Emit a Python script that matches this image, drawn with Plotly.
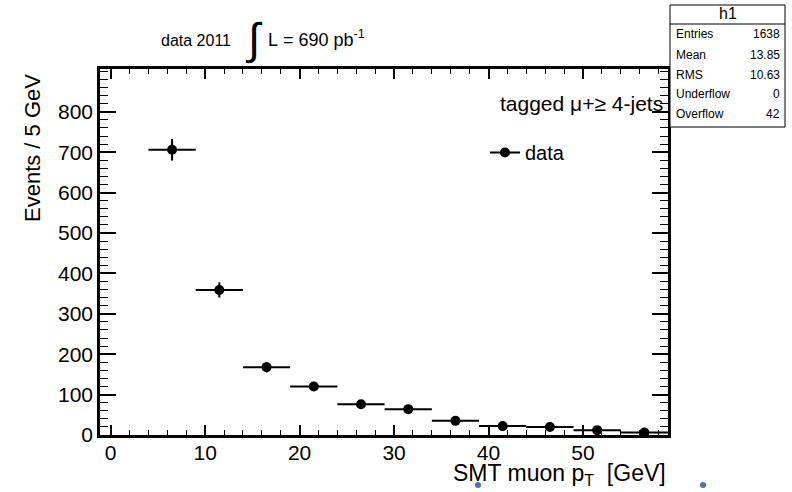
import numpy as np
import plotly.graph_objects as go

# ---- data ----
bin_centers = [6.5, 11.5, 16.5, 21.5, 26.5, 31.5, 36.5, 41.5, 46.5, 51.5, 56.5]
counts = [706, 359, 168, 120, 76, 64, 35, 22, 20, 12, 6]
bin_half_width = [2.5] * len(bin_centers)
count_errors = [float(np.sqrt(c)) for c in counts]

y_tick_values = [0, 100, 200, 300, 400, 500, 600, 700, 800]
x_tick_values = [0, 10, 20, 30, 40, 50]

stats_names = ["Entries", "Mean", "RMS", "Underflow", "Overflow"]
stats_values = ["1638", "13.85", "10.63", "0", "42"]

FONT = "Liberation Sans, Arial, Helvetica, sans-serif"

# plot-area pixel geometry (for placing annotations)
W, H = 792, 492
L, R, T, B = 100, 668, 69, 435
def px(x):
    return (x - L) / (R - L)
def py(y):
    return (B - y) / (B - T)

fig = go.Figure()
fig.add_trace(go.Scatter(
    x=bin_centers, y=counts, mode="markers",
    marker=dict(color="black", size=10, symbol="circle"),
    error_x=dict(type="data", array=bin_half_width, width=0, thickness=2, color="black"),
    error_y=dict(type="data", array=count_errors, width=0, thickness=2, color="black"),
    showlegend=False, hoverinfo="x+y",
))
# legend entry (marker + line, ROOT "lep" style)
fig.add_trace(go.Scatter(
    x=[None], y=[None], mode="lines+markers", name="data",
    line=dict(color="black", width=2),
    marker=dict(color="black", size=10),
))

axis_common = dict(
    showline=True, linecolor="black", linewidth=2.5, mirror="ticks",
    ticks="inside", tickcolor="black", showgrid=False, zeroline=False,
    tickfont=dict(family=FONT, size=21, color="black"),
)
fig.update_xaxes(
    range=[-1.13, 59.0], tickmode="array", tickvals=x_tick_values, ticklen=10, tickwidth=1.5,
    ticklabelstandoff=-3,
    minor=dict(dtick=2, tick0=0, ticklen=5, ticks="inside", tickcolor="black", tickwidth=1.2),
    **axis_common,
)
fig.update_yaxes(
    range=[0, 906], tickmode="array", tickvals=y_tick_values, ticklen=16, tickwidth=1.5,
    minor=dict(dtick=20, tick0=0, ticklen=8, ticks="inside", tickcolor="black", tickwidth=1.2),
    **axis_common,
)

ann = []
# axis titles (ROOT style, aligned to the end)
ann.append(dict(text="SMT muon p<sub>T</sub>&nbsp;&nbsp;[GeV]", x=1.0, xanchor="right",
                y=py(475), yanchor="middle", xref="paper", yref="paper", showarrow=False,
                font=dict(family=FONT, size=23, color="black")))
ann.append(dict(text="Events / 5 GeV", x=(32 - L) / (R - L), xanchor="center",
                y=py(72), yanchor="top", xref="paper", yref="paper", showarrow=False, textangle=-90,
                font=dict(family=FONT, size=22, color="black")))
# title with integral sign
ann.append(dict(text="data 2011", x=px(159), xanchor="left", y=py(40), yanchor="middle",
                xref="paper", yref="paper", showarrow=False,
                font=dict(family=FONT, size=16, color="black")))
ann.append(dict(text="∫", x=px(254), xanchor="center", y=py(39), yanchor="middle",
                xref="paper", yref="paper", showarrow=False,
                font=dict(family=FONT, size=44, color="black")))
ann.append(dict(text="L&nbsp;=&nbsp;690&nbsp;pb<sup>-1</sup>", x=px(266), xanchor="left", y=py(38), yanchor="middle",
                xref="paper", yref="paper", showarrow=False,
                font=dict(family=FONT, size=18, color="black")))
# legend header
ann.append(dict(text="tagged μ+≥ 4-jets", x=px(498), xanchor="left", y=py(103), yanchor="middle",
                xref="paper", yref="paper", showarrow=False,
                font=dict(family=FONT, size=21, color="black")))

# stats box
bx0, bx1, by0, by1, bhead = 670, 785, 127, 5, 24
shapes = [
    dict(type="rect", xref="paper", yref="paper", x0=px(bx0), x1=px(bx1), y0=py(by0), y1=py(by1),
         line=dict(color="black", width=1), fillcolor="white", layer="above"),
    dict(type="line", xref="paper", yref="paper", x0=px(bx0), x1=px(bx1), y0=py(bhead), y1=py(bhead),
         line=dict(color="black", width=1)),
]
ann.append(dict(text="h1", x=px((bx0 + bx1) / 2), xanchor="center", y=py(14), yanchor="middle",
                xref="paper", yref="paper", showarrow=False,
                font=dict(family=FONT, size=16, color="black")))
row_y = [34, 55, 75, 94, 114]
for name, val, yy in zip(stats_names, stats_values, row_y):
    ann.append(dict(text=name, x=px(674), xanchor="left", y=py(yy), yanchor="middle",
                    xref="paper", yref="paper", showarrow=False,
                    font=dict(family=FONT, size=12, color="black")))
    ann.append(dict(text=val, x=px(782), xanchor="right", y=py(yy), yanchor="middle",
                    xref="paper", yref="paper", showarrow=False,
                    font=dict(family=FONT, size=12, color="black")))

# small blue artefacts at the bottom edge of the picture
for cx in (478, 703):
    shapes.append(dict(type="circle", xref="paper", yref="paper",
                       x0=px(cx - 3), x1=px(cx + 3), y0=py(488), y1=py(482),
                       fillcolor="#4a72b8", line=dict(width=0)))

fig.update_layout(
    width=W, height=H,
    margin=dict(l=L, r=W - R, t=T, b=H - B, pad=0),
    paper_bgcolor="white", plot_bgcolor="white",
    annotations=ann, shapes=shapes,
    showlegend=True,
    legend=dict(x=px(485), xanchor="left", y=py(133), yanchor="top",
                bgcolor="rgba(0,0,0,0)", borderwidth=0,
                font=dict(family=FONT, size=20, color="black"),
                itemwidth=30, tracegroupgap=0),
)

fig.write_html("out.html", config={"displayModeBar": False},
               post_script="document.body.style.margin='0px';document.body.style.overflow='hidden';")
